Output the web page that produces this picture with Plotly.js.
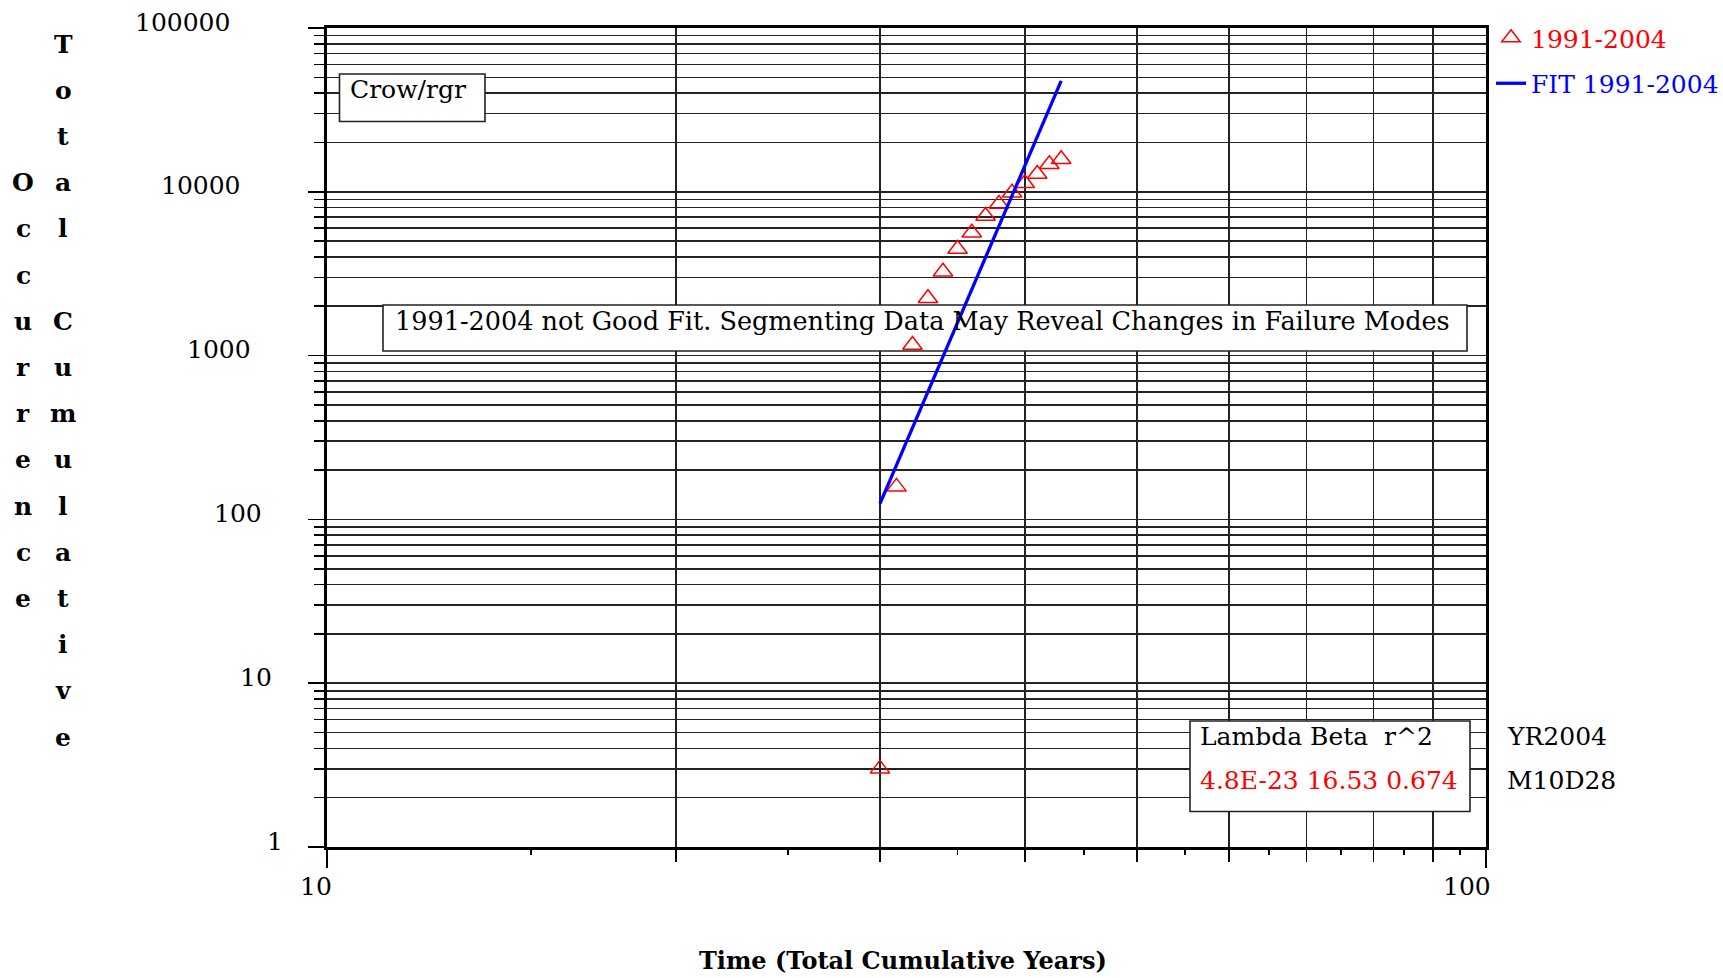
<!DOCTYPE html>
<html>
<head>
<meta charset="utf-8">
<script src="https://cdn.plot.ly/plotly-3.0.1.min.js"></script>
<style>html,body{margin:0;padding:0;background:#fff;}#chart{width:1723px;height:978px;}</style>
</head>
<body>
<div id="chart"></div>
<script>
// ---- data ----
const years = [30, 31, 32, 33, 34, 35, 36, 37, 38, 39, 40, 41, 42, 43];
const occurrences = [3, 158, 1161, 2238, 3253, 4475, 5626, 7115, 8425, 9874, 11270, 12850, 14720, 15790];
const fitOccurrences = [125, 215, 365, 605, 990, 1600, 2550, 4010, 6240, 9580, 14570, 21900, 32600, 47500];
const seriesName = '1991-2004';
const fitName = 'FIT 1991-2004';
const xTickVals = [10, 100];
const xTickText = ['10', '100'];
const xGridVals = [20, 30, 40, 50, 60, 70, 80, 90];
const xHalfTickVals = [15, 25, 35, 45, 55, 65, 75, 85, 95];
const yTickVals = [1, 10, 100, 1000, 10000, 100000];
const yTickText = ['1', '10', '100', '1000', '10000', '100000'];
const yTitleInner = 'Total Cumulative';
const yTitleOuter = 'Occurrence';
const xTitle = 'Time (Total Cumulative Years)';
const methodLabel = 'Crow/rgr';
const noteText = '1991-2004 not Good Fit. Segmenting Data May Reveal Changes in Failure Modes';
const paramHeader = 'Lambda Beta  r^2';
const paramValues = ['4.8E-23', '16.53', '0.674'];
const stampLines = ['YR2004', 'M10D28'];

// ---- layout helpers (pixel -> paper / axis) ----
const W = 1723, H = 978;
const L = 327, R = 1486, T = 28, B = 847;
const px = v => (v - L) / (R - L);
const py = v => 1 - (v - T) / (B - T);
const XR = [1, 2], YR = [0, 5];
const dx = v => Math.pow(10, XR[0] + px(v) * (XR[1] - XR[0]));
const dy = v => Math.pow(10, YR[0] + py(v) * (YR[1] - YR[0]));
const FONT = 'DejaVu Serif, Liberation Serif, serif';
const FS = 25;
const GRID = '#222';

const traces = [
  {
    x: years, y: occurrences, type: 'scatter', mode: 'markers',
    name: '<span style="color:#ff0000">' + seriesName + '</span>',
    legendgroup: 'a',
    marker: {symbol: 'triangle-up-open', size: 17, color: '#ff0000', line: {width: 1.5, color: '#ff0000'}},
    hoverinfo: 'x+y'
  },
  {
    x: years, y: fitOccurrences, type: 'scatter', mode: 'lines',
    name: '<span style="color:#0000ff">' + fitName + '</span>',
    legendgroup: 'b',
    line: {color: '#0000ff', width: 3.3},
    hoverinfo: 'x+y'
  },
  {x: [], y: [], xaxis: 'x2', yaxis: 'y', showlegend: false, hoverinfo: 'skip', mode: 'markers'}
];

const annotations = [];
// y tick labels (staggered like the reference)
yTickVals.forEach((v, j) => {
  annotations.push({
    xref: 'paper', yref: 'y', x: px(285 - 10.6 * j), y: Math.log10(v),
    xanchor: 'right', yanchor: 'middle', yshift: 6, showarrow: false,
    text: yTickText[j], font: {family: FONT, size: FS, color: '#000'}
  });
});
// x tick labels (right-aligned just past their tick, as in the reference)
xTickVals.forEach((v, j) => {
  annotations.push({
    xref: 'x', yref: 'paper', x: Math.log10(v), y: py(886),
    xanchor: 'right', yanchor: 'middle', xshift: 7, showarrow: false,
    text: xTickText[j], font: {family: FONT, size: FS, color: '#000'}
  });
});
// vertical stacked y-axis title
const rowStep = 46.2;
yTitleInner.split('').forEach((ch, i) => {
  if (ch === ' ') return;
  annotations.push({
    xref: 'paper', yref: 'paper', x: px(63), y: py(44 + rowStep * i),
    xanchor: 'center', yanchor: 'middle', showarrow: false,
    text: ch, font: {family: FONT, size: FS, color: '#000', weight: 'bold'}
  });
});
yTitleOuter.split('').forEach((ch, i) => {
  annotations.push({
    xref: 'paper', yref: 'paper', x: px(23), y: py(44 + rowStep * (i + 3)),
    xanchor: 'center', yanchor: 'middle', showarrow: false,
    text: ch, font: {family: FONT, size: FS, color: '#000', weight: 'bold'}
  });
});
// x-axis title
annotations.push({
  xref: 'paper', yref: 'paper', x: px(903), y: py(960), xanchor: 'center', yanchor: 'middle',
  showarrow: false, text: xTitle, font: {family: FONT, size: 24, color: '#000', weight: 'bold'}
});
// text inside boxes
annotations.push({
  xref: 'paper', yref: 'paper', x: px(348), y: py(90), xanchor: 'left', yanchor: 'middle',
  showarrow: false, text: methodLabel, font: {family: FONT, size: FS, color: '#000'}
});
annotations.push({
  xref: 'paper', yref: 'paper', x: px(393), y: py(321), xanchor: 'left', yanchor: 'middle',
  showarrow: false, text: noteText, font: {family: FONT, size: 25.5, color: '#000'}
});
annotations.push({
  xref: 'paper', yref: 'paper', x: px(1198), y: py(736), xanchor: 'left', yanchor: 'middle',
  showarrow: false, text: paramHeader, font: {family: FONT, size: FS, color: '#000'}
});
annotations.push({
  xref: 'paper', yref: 'paper', x: px(1198), y: py(780), xanchor: 'left', yanchor: 'middle',
  showarrow: false, text: paramValues.join(' '), font: {family: FONT, size: FS, color: '#ff0000'}
});
stampLines.forEach((s, i) => {
  annotations.push({
    xref: 'paper', yref: 'paper', x: px(1505), y: py(736 + 44 * i), xanchor: 'left', yanchor: 'middle',
    showarrow: false, text: s, font: {family: FONT, size: FS, color: '#000'}
  });
});

// white boxes drawn between the grid and the traces
const boxStyle = {type: 'rect', xref: 'x', yref: 'y', layer: 'between',
  line: {color: '#222', width: 1.6}, fillcolor: '#ffffff'};
const box = (x0, x1, yTop, yBot) => Object.assign({}, boxStyle,
  {x0: dx(x0), x1: dx(x1), y0: dy(yBot), y1: dy(yTop)});
const shapes = [
  box(339.5, 485, 74, 121.5),
  box(383, 1467, 305, 351),
  box(1190, 1470, 721, 811.5)
];

const layout = {
  width: W, height: H,
  margin: {l: L, r: W - R, t: T, b: H - B, pad: 0, autoexpand: false},
  paper_bgcolor: '#fff', plot_bgcolor: '#fff',
  font: {family: FONT, size: FS, color: '#000'},
  showlegend: true,
  legend: {x: px(1491), y: py(15), xanchor: 'left', yanchor: 'top', bgcolor: 'rgba(0,0,0,0)',
    font: {family: FONT, size: FS}, tracegroupgap: 10, itemwidth: 30},
  xaxis: {
    type: 'log', range: XR, fixedrange: true,
    tickmode: 'array', tickvals: xTickVals, showticklabels: false,
    ticks: 'outside', ticklen: 18, tickwidth: 1.6, tickcolor: '#000',
    showgrid: false, zeroline: false,
    showline: true, linecolor: '#000', linewidth: 3, mirror: true,
    minor: {tickmode: 'array', tickvals: xGridVals, ticks: 'outside', ticklen: 12, tickwidth: 1.6,
      tickcolor: '#000', showgrid: true, gridcolor: GRID, gridwidth: 1.6}
  },
  xaxis2: {
    type: 'log', range: XR, overlaying: 'x', anchor: 'y', side: 'bottom', fixedrange: true,
    tickmode: 'array', tickvals: xHalfTickVals, ticks: 'outside', ticklen: 7, tickwidth: 1.6, tickcolor: '#000',
    showticklabels: false, showgrid: false, zeroline: false, showline: false
  },
  yaxis: {
    type: 'log', range: YR, fixedrange: true,
    tickmode: 'array', tickvals: yTickVals, showticklabels: false,
    ticks: 'outside', ticklen: 16, tickwidth: 1.6, tickcolor: '#000',
    showgrid: true, gridcolor: GRID, gridwidth: 1.6, zeroline: false,
    showline: true, linecolor: '#000', linewidth: 3, mirror: true,
    minor: {dtick: 'D1', ticks: 'outside', ticklen: 10, tickwidth: 1.6, tickcolor: '#000',
      showgrid: true, gridcolor: GRID, gridwidth: 1.6}
  },
  annotations: annotations,
  shapes: shapes
};

Plotly.newPlot('chart', traces, layout, {staticPlot: true, displayModeBar: false});
</script>
</body>
</html>
